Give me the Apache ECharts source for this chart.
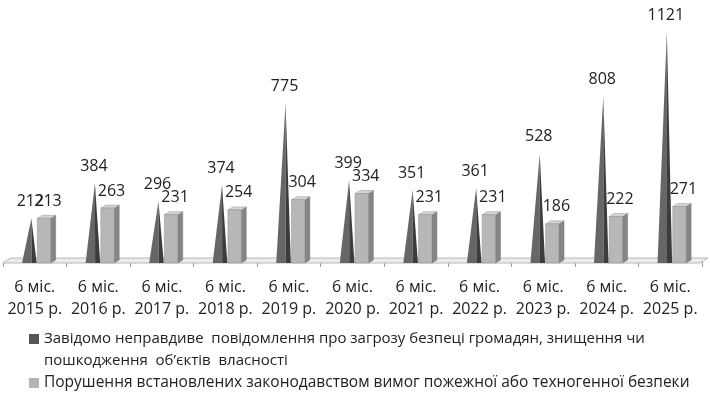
<!DOCTYPE html>
<html><head><meta charset="utf-8">
<script src="https://cdn.jsdelivr.net/npm/echarts@6/dist/echarts.min.js"></script>
<style>html,body{margin:0;padding:0;background:#fff}#c{width:710px;height:393px}</style>
</head><body><div id="c"></div>
<script>
var categories = ['6 міс.\n2015 р.','6 міс.\n2016 р.','6 міс.\n2017 р.','6 міс.\n2018 р.','6 міс.\n2019 р.','6 міс.\n2020 р.','6 міс.\n2021 р.','6 міс.\n2022 р.','6 міс.\n2023 р.','6 міс.\n2024 р.','6 міс.\n2025 р.'];
var seriesNames = ['Завідомо неправдиве  повідомлення про загрозу безпеці громадян, знищення чи\nпошкодження  об’єктів  власності', 'Порушення встановлених законодавством вимог пожежної або техногенної безпеки'];
var falseReports = [212, 384, 296, 374, 775, 399, 351, 361, 528, 808, 1121];
var fireSafety = [213, 263, 231, 254, 304, 334, 231, 231, 186, 222, 271];

var FONT = '"Open Sans", sans-serif';

function renderCone(params, api) {
  var top = api.coord([api.value(0), api.value(1)]);
  var base = api.coord([api.value(0), 0]);
  var bw = api.size([1, 0])[0];
  var cx = top[0] - 0.085 * bw;
  var hw = 0.115 * bw;
  var by = base[1] + 1;
  var px = cx + 2;
  return { type: 'group', children: [
    { type: 'polygon', shape: { points: [[cx - hw, by], [px, top[1]], [cx + hw * 0.3, by]] }, style: { fill: '#666666' } },
    { type: 'polygon', shape: { points: [[cx + hw * 0.3, by], [px, top[1]], [cx + hw, by]] }, style: { fill: '#3c3c3c' } },
    { type: 'text', style: { text: String(api.value(1)), x: px - 1, y: top[1] - 17, align: 'center', verticalAlign: 'middle', font: '16px ' + FONT, fill: '#222' } }
  ]};
}
function renderBox(params, api) {
  var top = api.coord([api.value(0), api.value(1)]);
  var base = api.coord([api.value(0), 0]);
  var bw = api.size([1, 0])[0];
  var x0 = top[0] + 0.04 * bw;
  var x1 = top[0] + 0.25 * bw;
  var dx = 5, dy = 3;
  var by = base[1] + 1;
  return { type: 'group', children: [
    { type: 'polygon', shape: { points: [[x1, top[1]], [x1 + dx, top[1] - dy], [x1 + dx, by - dy], [x1, by]] }, style: { fill: '#858585', stroke: '#777', lineWidth: 0.5 } },
    { type: 'polygon', shape: { points: [[x0, top[1]], [x0 + dx, top[1] - dy], [x1 + dx, top[1] - dy], [x1, top[1]]] }, style: { fill: '#d4d4d4', stroke: '#999', lineWidth: 0.5 } },
    { type: 'rect', shape: { x: x0, y: top[1], width: x1 - x0, height: by - top[1] }, style: { fill: '#b7b7b7', stroke: '#8c8c8c', lineWidth: 0.5 } },
    { type: 'text', style: { text: String(api.value(1)), x: (x0 + x1) / 2 + 4, y: top[1] - 17, align: 'center', verticalAlign: 'middle', font: '16px ' + FONT, fill: '#222' } }
  ]};
}
function renderFloor(params, api) {
  var cs = params.coordSys;
  var y = cs.y + cs.height;
  return { type: 'polygon', z2: -1, shape: { points: [[cs.x, y + 1], [cs.x + 8, y - 4], [cs.x + cs.width + 6, y - 4], [cs.x + cs.width - 2, y + 1]] }, style: { fill: '#ececec', stroke: '#b8b8b8', lineWidth: 1 } };
}

var chart = echarts.init(document.getElementById('c'), null, { renderer: 'canvas' });
chart.setOption({
  animation: false,
  backgroundColor: '#fff',
  grid: { left: 3, right: 8, top: 16, bottom: 131 },
  legend: [
    { orient: 'vertical', left: 29, top: 328, padding: 0, itemWidth: 10, itemHeight: 32,
      icon: 'path://M0,0H10V10H0Z M0,32H0.01V32.01H0Z',
      textStyle: { fontFamily: FONT, fontSize: 15, color: '#222', lineHeight: 22 }, data: [seriesNames[0]] },
    { orient: 'vertical', left: 29, top: 372, padding: 0, itemWidth: 10, itemHeight: 10,
      icon: 'rect', textStyle: { fontFamily: FONT, fontSize: 15.5, color: '#222', lineHeight: 22 }, data: [seriesNames[1]] }
  ],
  xAxis: {
    type: 'category', data: categories,
    axisLine: { show: true, lineStyle: { color: '#b8b8b8' } },
    axisTick: { show: true, length: 5, lineStyle: { color: '#999' } },
    axisLabel: { fontFamily: FONT, fontSize: 16, color: '#222', lineHeight: 22, margin: 14, interval: 0 }
  },
  yAxis: { type: 'value', min: 0, max: 1200, show: false, splitLine: { show: false } },
  series: [
    { type: 'custom', name: 'floor', renderItem: renderFloor, data: [[0, 0]], silent: true, z: 1 },
    { type: 'custom', name: seriesNames[0], renderItem: renderCone, data: falseReports.map(function (v, i) { return [i, v]; }), itemStyle: { color: '#555' }, encode: { x: 0, y: 1 }, z: 3 },
    { type: 'custom', name: seriesNames[1], renderItem: renderBox, data: fireSafety.map(function (v, i) { return [i, v]; }), itemStyle: { color: '#b4b4b4' }, encode: { x: 0, y: 1 }, z: 2 }
  ]
});
</script></body></html>
